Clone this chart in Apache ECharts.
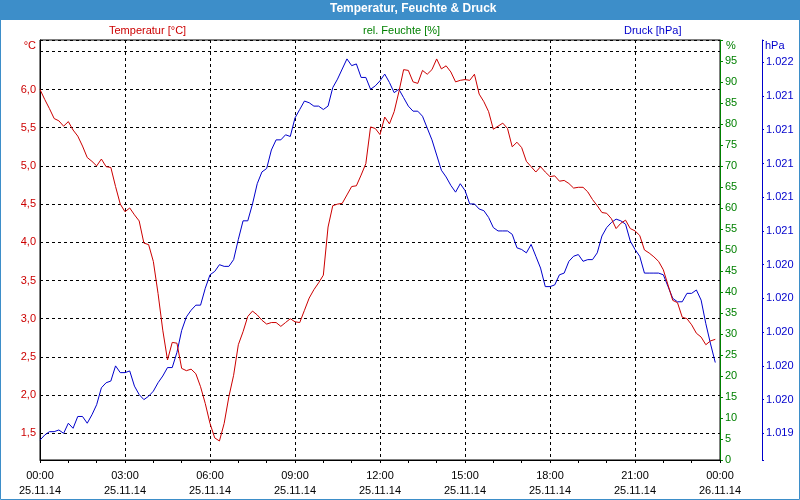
<!DOCTYPE html>
<html><head><meta charset="utf-8">
<script src="https://cdn.jsdelivr.net/npm/echarts@6/dist/echarts.min.js"></script>
<style>html,body{margin:0;padding:0;background:#fff}#c{width:800px;height:500px}</style>
</head><body><div id="c"></div>
<script>
const chartTitle = 'Temperatur, Feuchte & Druck';
const seriesNames = ['Temperatur [°C]', 'rel. Feuchte [%]', 'Druck [hPa]'];
const unitNames = ['°C', '%', 'hPa'];
const dates = ['25.11.14', '26.11.14'];
const sampleMinutes = 10; // one reading every 10 minutes, starting 00:00

const temperature = [
 6.00,5.87,5.75,5.62,5.59,5.52,5.58,5.47,5.39,5.26,5.11,5.06,5.00,5.09,4.99,4.98,4.73,4.50,4.40,4.45,
 4.36,4.28,3.99,3.97,3.75,3.33,2.85,2.46,2.69,2.68,2.35,2.32,2.34,2.28,2.11,1.89,1.63,1.44,1.40,1.63,
 1.98,2.26,2.66,2.83,3.03,3.10,3.05,2.98,2.93,2.95,2.95,2.90,2.95,3.00,2.96,2.95,3.11,3.27,3.38,3.47,
 3.57,4.20,4.48,4.50,4.51,4.62,4.73,4.74,4.88,5.03,5.51,5.49,5.41,5.64,5.55,5.71,5.97,6.26,6.25,6.10,
 6.08,6.25,6.20,6.26,6.40,6.27,6.31,6.23,6.10,6.12,6.13,6.12,6.20,5.94,5.84,5.71,5.48,5.52,5.56,5.49,
 5.25,5.31,5.24,5.06,4.99,4.92,4.99,4.92,4.86,4.87,4.80,4.81,4.77,4.71,4.72,4.72,4.66,4.56,4.48,4.39,
 4.38,4.31,4.18,4.25,4.29,4.18,4.15,4.09,3.90,3.86,3.81,3.75,3.64,3.44,3.24,3.21,3.02,3.00,2.92,2.81,
 2.76,2.66,2.71,2.73
];

const humidity = []; // no humidity readings shown

const pressure = [
 1019.36,1019.39,1019.41,1019.41,1019.42,1019.40,1019.46,1019.43,1019.50,1019.50,1019.46,1019.51,1019.57,1019.67,1019.70,1019.71,1019.80,1019.76,1019.76,1019.77,
 1019.68,1019.63,1019.60,1019.62,1019.65,1019.70,1019.74,1019.79,1019.79,1019.88,1020.01,1020.09,1020.13,1020.16,1020.16,1020.26,1020.34,1020.36,1020.40,1020.39,
 1020.39,1020.43,1020.55,1020.66,1020.66,1020.76,1020.88,1020.95,1020.97,1021.08,1021.14,1021.14,1021.17,1021.16,1021.27,1021.32,1021.37,1021.36,1021.34,1021.34,
 1021.32,1021.34,1021.45,1021.50,1021.56,1021.62,1021.58,1021.59,1021.51,1021.51,1021.44,1021.46,1021.49,1021.53,1021.48,1021.42,1021.44,1021.39,1021.34,1021.31,
 1021.31,1021.28,1021.21,1021.14,1021.05,1020.96,1020.92,1020.87,1020.83,1020.88,1020.84,1020.76,1020.76,1020.73,1020.72,1020.68,1020.62,1020.60,1020.60,1020.60,
 1020.58,1020.50,1020.49,1020.47,1020.52,1020.45,1020.38,1020.27,1020.27,1020.28,1020.34,1020.35,1020.42,1020.45,1020.46,1020.42,1020.43,1020.43,1020.47,1020.57,
 1020.62,1020.65,1020.67,1020.66,1020.64,1020.54,1020.49,1020.45,1020.35,1020.35,1020.35,1020.35,1020.34,1020.27,1020.20,1020.18,1020.18,1020.23,1020.23,1020.25,
 1020.19,1020.05,1019.93,1019.82
];

const RED = '#cc0000', GREEN = '#008000', BLUE = '#0000cc', FRAME = '#3d8ec9';
const FONT = 'Liberation Sans';

function pad(n){ return (n < 10 ? '0' : '') + n; }
function timeLabel(v){
  const d = Math.floor(v / 1440);
  const r = v - d * 1440;
  return pad(Math.floor(r / 60)) + ':' + pad(r % 60) + '\n' + dates[Math.min(d, dates.length - 1)];
}
function isStep(v, step){ const k = v / step; return Math.abs(k - Math.round(k)) < 1e-6; }
function thousands(n){ return String(n).replace(/\B(?=(\d{3})+(?!\d))/g, '.'); }

const tempData = temperature.map((v, i) => [i * sampleMinutes, v]);
const humData = humidity.map((v, i) => [i * sampleMinutes, v]);
const presData = pressure.map((v, i) => [i * sampleMinutes, v]);

const chart = echarts.init(document.getElementById('c'), null, {renderer: 'canvas'});
chart.setOption({
  animation: false,
  backgroundColor: '#fff',
  textStyle: {fontFamily: FONT},
  graphic: [
    {type: 'rect', z: 0, shape: {x: 0, y: 0, width: 800, height: 20}, style: {fill: FRAME}},
    {type: 'rect', z: 0, shape: {x: 0.5, y: 0.5, width: 799, height: 499}, style: {fill: null, stroke: FRAME, lineWidth: 1}}
  ],
  title: [
    {text: chartTitle, left: 330, top: 3, padding: 0, z: 10,
     textStyle: {color: '#fff', fontSize: 12, fontWeight: 'bold', fontFamily: FONT}},
    {text: seriesNames[0], left: 109, top: 25, padding: 0, textStyle: {color: RED, fontSize: 11, fontWeight: 'normal', fontFamily: FONT}},
    {text: seriesNames[1], left: 363, top: 25, padding: 0, textStyle: {color: GREEN, fontSize: 11, fontWeight: 'normal', fontFamily: FONT}},
    {text: seriesNames[2], left: 624, top: 25, padding: 0, textStyle: {color: BLUE, fontSize: 11, fontWeight: 'normal', fontFamily: FONT}}
  ],
  grid: {left: 40, right: 80, top: 40, bottom: 40, show: true, borderColor: '#000', borderWidth: 1, backgroundColor: '#fff'},
  xAxis: {
    type: 'value', min: 0, max: 1440, interval: 180,
    axisLine: {lineStyle: {color: '#000', width: 1}},
    axisTick: {show: true, length: 3, lineStyle: {color: '#000'}},
    minorTick: {show: true, splitNumber: 3, length: 3, lineStyle: {color: '#000'}},
    axisLabel: {color: '#000', fontSize: 11, fontFamily: FONT, margin: 8, lineHeight: 15, formatter: timeLabel},
    splitLine: {show: true, lineStyle: {color: '#000', type: [3, 3], width: 1}}
  },
  yAxis: [
    {
      type: 'value', position: 'left', min: 1.151, max: 6.648, splitNumber: 11, minInterval: 0.5, maxInterval: 0.5,
      name: unitNames[0], nameLocation: 'end', nameGap: -6,
      nameTextStyle: {color: RED, fontSize: 11, fontFamily: FONT, align: 'right', verticalAlign: 'middle', padding: [0, 4, 0, 0]},
      axisLine: {show: true, lineStyle: {color: '#000'}},
      axisTick: {show: false},
      showMinLabel: false, showMaxLabel: false,
      axisLabel: {color: RED, fontSize: 11, fontFamily: FONT, margin: 4,
        formatter: v => (isStep(v, 0.5) && v < 6.4) ? v.toFixed(1).replace('.', ',') : ''},
      splitLine: {show: true, lineStyle: {color: '#000', type: [3, 3], width: 1}}
    },
    {
      type: 'value', position: 'right', min: 0, max: 100, interval: 5,
      name: unitNames[1], nameLocation: 'end', nameGap: -6,
      nameTextStyle: {color: GREEN, fontSize: 11, fontFamily: FONT, align: 'left', verticalAlign: 'middle', padding: [0, 0, 0, 6]},
      axisLine: {show: true, lineStyle: {color: GREEN}},
      axisTick: {show: true, length: 3, lineStyle: {color: GREEN}},
      axisLabel: {color: GREEN, fontSize: 11, fontFamily: FONT, margin: 5, formatter: v => v >= 100 ? '' : String(v)},
      splitLine: {show: false}
    },
    {
      type: 'value', position: 'right', offset: 42, min: 1019.242, max: 1021.732, splitNumber: 12, minInterval: 0.2, maxInterval: 0.2,
      name: unitNames[2], nameLocation: 'end', nameGap: -6,
      nameTextStyle: {color: BLUE, fontSize: 11, fontFamily: FONT, align: 'left', verticalAlign: 'middle', padding: [0, 0, 0, 3]},
      axisLine: {show: true, lineStyle: {color: BLUE}},
      axisTick: {show: true, length: 2, lineStyle: {color: BLUE}},
      showMinLabel: false, showMaxLabel: false,
      axisLabel: {color: BLUE, fontSize: 11, fontFamily: FONT, margin: 4,
        formatter: v => isStep(v, 0.2) ? thousands(Math.round(v)) : ''},
      splitLine: {show: false}
    }
  ],
  series: [
    {name: seriesNames[0], type: 'line', yAxisIndex: 0, data: tempData, showSymbol: false, symbol: 'none',
     lineStyle: {color: RED, width: 1}, itemStyle: {color: RED}, z: 3},
    {name: seriesNames[1], type: 'line', yAxisIndex: 1, data: humData, showSymbol: false, symbol: 'none',
     lineStyle: {color: GREEN, width: 1}, itemStyle: {color: GREEN}},
    {name: seriesNames[2], type: 'line', yAxisIndex: 2, data: presData, showSymbol: false, symbol: 'none',
     lineStyle: {color: BLUE, width: 1}, itemStyle: {color: BLUE}, z: 2}
  ]
});
</script>
</body></html>
